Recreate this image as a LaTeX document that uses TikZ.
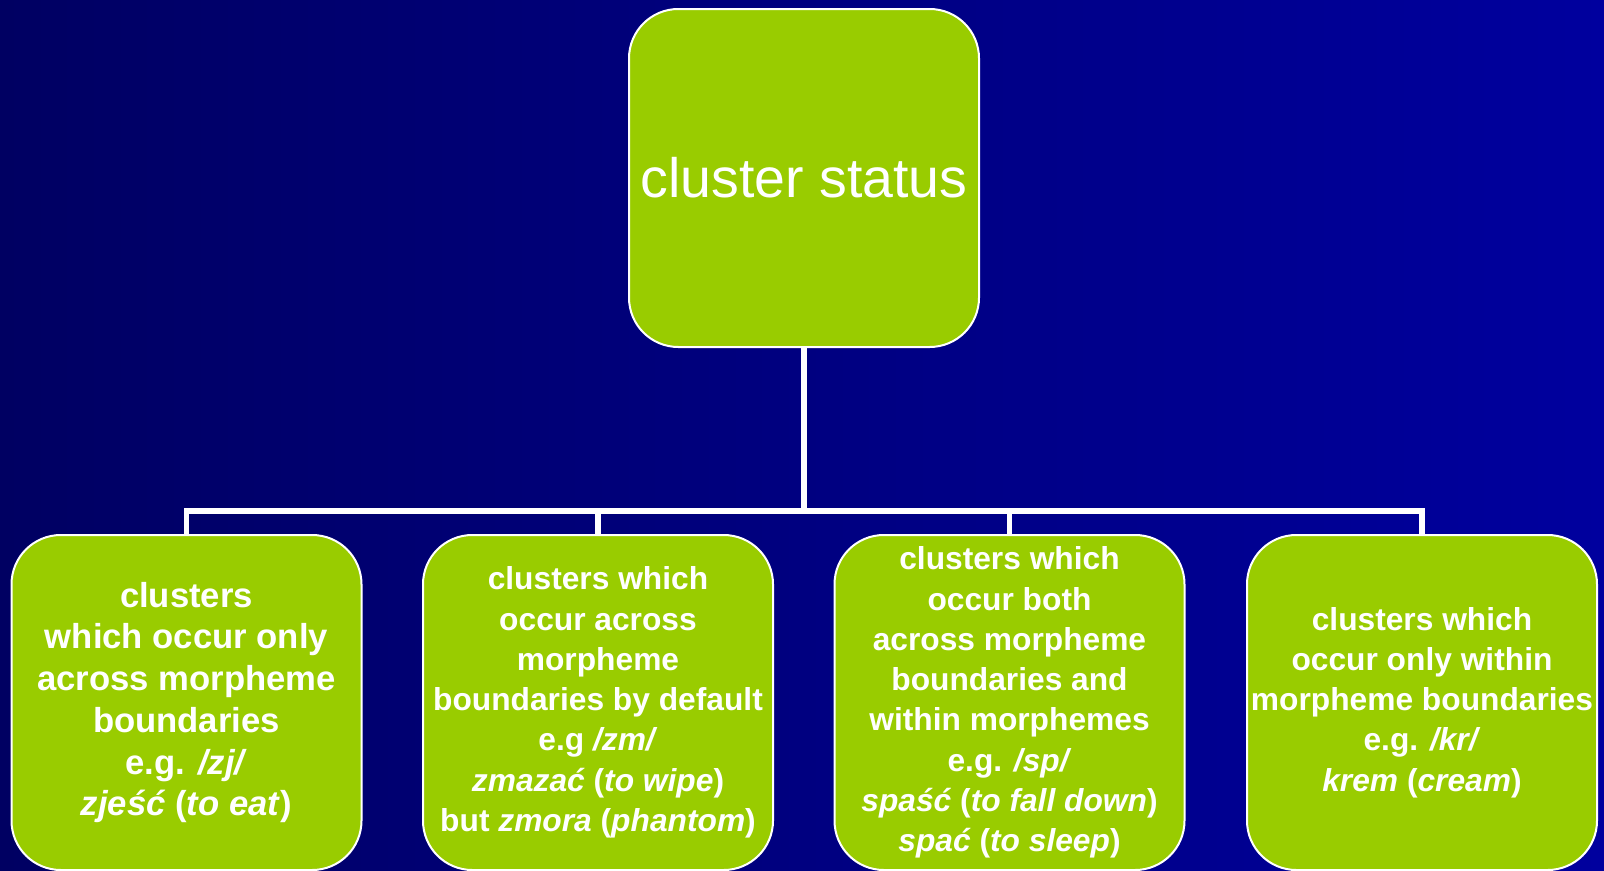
\documentclass[tikz,border=0pt]{standalone}
\usepackage{fontspec}
\setmainfont{Liberation Sans}
\definecolor{grn}{HTML}{99CC00}
\definecolor{bgl}{RGB}{0,0,98}
\definecolor{bgr}{RGB}{0,0,158}
\tikzset{
  box/.style={draw=white, line width=1.5pt, fill=grn, rounded corners=37pt,
    minimum width=262.5pt, inner sep=0pt, text=white, align=center},
  topbox/.style={box, minimum height=253.5pt,
    font=\fontsize{41.6}{48}\selectfont},
  leaf/.style={box, minimum height=251.25pt,
    font=\fontsize{23.8}{30.2}\selectfont\bfseries},
  leafbig/.style={leaf, font=\fontsize{26}{31.3}\selectfont\bfseries},
  conn/.style={draw=white, line width=4.2pt, line join=miter}
}
\begin{document}
\begin{tikzpicture}[x=0.75pt, y=-0.75pt]
\fill[left color=bgl, right color=bgr] (0,0) rectangle (1604,871);
\useasboundingbox (0,0) rectangle (1604,871);
\coordinate (j) at (804,511);
\node[topbox] (top) at (804,178) {cluster status};
\node[leafbig] (b1) at (186.5,702.5) {clusters\\ which occur only\\ across morpheme\\ boundaries\\ e.g. \textit{/zj/}\\ \textit{zjeść} (\textit{to eat})};
\node[leaf] (b2) at (598,702.5) {clusters which\\ occur across\\ morpheme\\ boundaries by default\\ e.g \textit{/zm/}\\ \textit{zmazać} (\textit{to wipe})\\ but \textit{zmora} (\textit{phantom})};
\node[leaf] (b3) at (1009.5,702.5) {clusters which\\ occur both\\ across morpheme\\ boundaries and\\ within morphemes\\ e.g. \textit{/sp/}\\ \textit{spaść} (\textit{to fall down})\\ \textit{spać} (\textit{to sleep})};
\node[leaf] (b4) at (1422,702.5) {clusters which\\ occur only within\\ morpheme boundaries\\ e.g. \textit{/kr/}\\ \textit{krem} (\textit{cream})};
\draw[conn] (top.south) -- (j);
\draw[conn] (b1.north) |- (j) -| (b4.north);
\draw[conn] (b2.north) -- (b2.north |- j);
\draw[conn] (b3.north) -- (b3.north |- j);
\end{tikzpicture}
\end{document}
